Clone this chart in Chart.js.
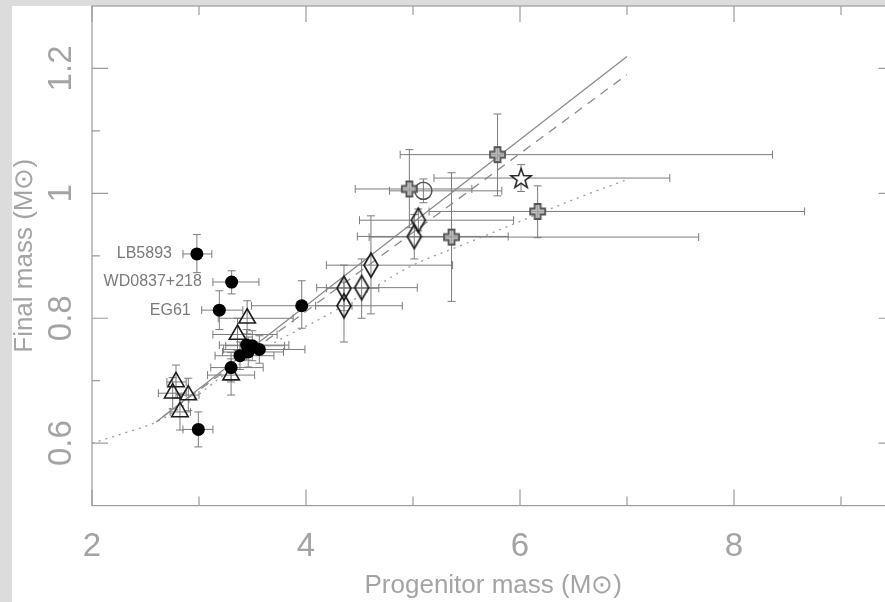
<!DOCTYPE html>
<html>
<head>
<meta charset="utf-8">
<script src="https://cdn.jsdelivr.net/npm/chart.js@4.4.1/dist/chart.umd.min.js"></script>
<style>
  html, body { margin: 0; padding: 0; background: #dcdcdc; overflow: hidden; }
  #paper { position: absolute; left: 12px; top: 6px; width: 900px; height: 610px; background: #fff; }
  #chart { position: absolute; left: 12px; top: 0; width: 890px; height: 602px; }
</style>
</head>
<body>
<div id="paper"></div>
<canvas id="chart" width="890" height="602"></canvas>
<script>
// axis ticks
const xMajor = [2, 4, 6, 8];
const xMinor = [3, 5, 7, 9];
const yMajor = [0.6, 0.8, 1, 1.2];
const yMinor = [0.7, 0.9, 1.1];

// filled circles (white dwarfs incl. labelled ones)
const dotX   = [2.98, 3.305, 3.19, 3.96, 3.445, 3.498, 3.46, 3.564, 3.383, 3.30, 2.994];
const dotY   = [0.903, 0.858, 0.813, 0.820, 0.757, 0.756, 0.746, 0.750, 0.740, 0.721, 0.622];
const dotXlo = [2.85, 3.13, 3.025, 3.49, 3.19, 3.25, 3.22, 3.23, 3.15, 3.11, 2.85];
const dotXhi = [3.12, 3.56, 3.41, 4.43, 3.84, 3.80, 3.79, 3.99, 3.70, 3.60, 3.13];
const dotYlo = [0.873, 0.839, 0.782, 0.784, 0.733, 0.732, 0.722, 0.728, 0.718, 0.698, 0.594];
const dotYhi = [0.934, 0.876, 0.844, 0.860, 0.782, 0.780, 0.770, 0.772, 0.762, 0.745, 0.650];
const dotNames = ["LB5893", "WD0837+218", "EG61", "", "", "", "", "", "", "", ""];

// open triangles
const triX   = [2.785, 2.754, 2.90, 2.822, 3.30, 3.36, 3.45];
const triY   = [0.698, 0.680, 0.677, 0.650, 0.709, 0.774, 0.800];
const triXlo = [2.70, 2.62, 2.80, 2.73, 3.08, 3.13, 3.18];
const triXhi = [2.88, 2.88, 3.00, 2.92, 3.52, 3.73, 3.88];
const triYlo = [0.672, 0.655, 0.652, 0.621, 0.677, 0.748, 0.775];
const triYhi = [0.725, 0.705, 0.704, 0.678, 0.735, 0.800, 0.828];

// open diamonds
const diaX   = [4.355, 4.355, 4.52, 4.607, 5.012, 5.05];
const diaY   = [0.848, 0.820, 0.849, 0.885, 0.931, 0.957];
const diaXlo = [4.19, 4.09, 4.10, 4.19, 4.48, 4.50];
const diaXhi = [4.68, 4.90, 5.04, 5.37, 5.89, 5.94];
const diaYlo = [0.812, 0.762, 0.800, 0.807, 0.895, 0.940];
const diaYhi = [0.885, 0.858, 0.895, 0.964, 0.966, 0.975];

// grey crosses
const crsX   = [4.966, 5.79, 5.36, 6.165];
const crsY   = [1.007, 1.062, 0.930, 0.971];
const crsXlo = [4.46, 4.88, 4.59, 5.15];
const crsXhi = [5.55, 8.36, 7.67, 8.66];
const crsYlo = [0.945, 0.996, 0.827, 0.929];
const crsYhi = [1.070, 1.127, 1.033, 1.012];

// open circle
const cirX = [5.097], cirY = [1.004];
const cirXlo = [4.78], cirXhi = [5.83], cirYlo = [0.985], cirYhi = [1.023];

// star
const starX = [6.01], starY = [1.0245];
const starXlo = [5.196], starXhi = [7.40], starYlo = [1.003], starYhi = [1.046];

// relations
const solidX = [2.6, 7.0];
const solidY = [0.634, 1.219];
const dashX = [2.66, 7.0];
const dashY = [0.642, 1.19];
const dotCurveX = [2.0, 2.3, 2.6, 2.9, 3.2, 3.5, 3.8, 4.1, 4.5, 5.0, 5.5, 6.0, 6.5, 7.0];
const dotCurveY = [0.600, 0.616, 0.634, 0.665, 0.705, 0.740, 0.770, 0.796, 0.835, 0.885, 0.920, 0.955, 0.990, 1.022];

const pts = (xs, ys) => xs.map((x, i) => ({ x: x, y: ys[i] }));

// marker images
function marker(w, h, draw) {
  const c = document.createElement("canvas");
  c.width = w; c.height = h;
  draw(c.getContext("2d"), w, h);
  return c;
}
const diamondImg = marker(18, 28, (g, w, h) => {
  g.beginPath();
  g.moveTo(w / 2, 2); g.lineTo(w - 2, h / 2); g.lineTo(w / 2, h - 2); g.lineTo(2, h / 2);
  g.closePath();
  g.lineWidth = 1.7; g.strokeStyle = "#1e1e1e"; g.stroke();
});
const crossImg = marker(19, 19, (g) => {
  const c = 9.5, a = 3, r = 7.5;
  g.beginPath();
  g.moveTo(c - a, c - r); g.lineTo(c + a, c - r); g.lineTo(c + a, c - a); g.lineTo(c + r, c - a);
  g.lineTo(c + r, c + a); g.lineTo(c + a, c + a); g.lineTo(c + a, c + r); g.lineTo(c - a, c + r);
  g.lineTo(c - a, c + a); g.lineTo(c - r, c + a); g.lineTo(c - r, c - a); g.lineTo(c - a, c - a);
  g.closePath();
  g.fillStyle = "rgba(170,170,170,0.75)"; g.fill();
  g.lineWidth = 1.8; g.strokeStyle = "#555"; g.stroke();
});
const starImg = marker(24, 24, (g) => {
  g.beginPath();
  for (let i = 0; i < 10; i++) {
    const r = i % 2 ? 4.2 : 10.5;
    const ang = -Math.PI / 2 + i * Math.PI / 5;
    g.lineTo(12 + r * Math.cos(ang), 13 + r * Math.sin(ang));
  }
  g.closePath();
  g.fillStyle = "#fff"; g.fill();
  g.lineWidth = 1.5; g.strokeStyle = "#1e1e1e"; g.stroke();
});

// error bars for every symbol set
const errSets = [
  [dotX, dotY, dotXlo, dotXhi, dotYlo, dotYhi],
  [triX, triY, triXlo, triXhi, triYlo, triYhi],
  [diaX, diaY, diaXlo, diaXhi, diaYlo, diaYhi],
  [crsX, crsY, crsXlo, crsXhi, crsYlo, crsYhi],
  [cirX, cirY, cirXlo, cirXhi, cirYlo, cirYhi],
  [starX, starY, starXlo, starXhi, starYlo, starYhi]
];

const errorBars = {
  id: "errorBars",
  beforeDatasetsDraw(chart) {
    const { ctx, scales: { x, y } } = chart;
    const cap = 4;
    ctx.save();
    ctx.strokeStyle = "#7c7c7c";
    ctx.lineWidth = 1;
    ctx.beginPath();
    errSets.forEach(([xs, ys, xlo, xhi, ylo, yhi]) => {
      xs.forEach((v, i) => {
        const px = x.getPixelForValue(v), py = y.getPixelForValue(ys[i]);
        const l = x.getPixelForValue(xlo[i]), r = x.getPixelForValue(xhi[i]);
        const t = y.getPixelForValue(yhi[i]), b = y.getPixelForValue(ylo[i]);
        ctx.moveTo(l, py); ctx.lineTo(r, py);
        ctx.moveTo(l, py - cap); ctx.lineTo(l, py + cap);
        ctx.moveTo(r, py - cap); ctx.lineTo(r, py + cap);
        ctx.moveTo(px, t); ctx.lineTo(px, b);
        ctx.moveTo(px - cap, t); ctx.lineTo(px + cap, t);
        ctx.moveTo(px - cap, b); ctx.lineTo(px + cap, b);
      });
    });
    ctx.stroke();
    ctx.restore();
  }
};

// frame with inward ticks on all sides, plus star names
const frameTicks = {
  id: "frameTicks",
  afterDraw(chart) {
    const { ctx, chartArea: a, scales: { x, y } } = chart;
    ctx.save();
    ctx.strokeStyle = "#9c9c9c";
    ctx.lineWidth = 1.2;
    ctx.strokeRect(a.left, a.top, a.right - a.left, a.bottom - a.top);
    ctx.beginPath();
    const xt = (v, len) => {
      const p = x.getPixelForValue(v);
      ctx.moveTo(p, a.bottom); ctx.lineTo(p, a.bottom - len);
      ctx.moveTo(p, a.top); ctx.lineTo(p, a.top + len);
    };
    const yt = (v, len) => {
      const p = y.getPixelForValue(v);
      ctx.moveTo(a.left, p); ctx.lineTo(a.left + len, p);
      ctx.moveTo(a.right, p); ctx.lineTo(a.right - len, p);
    };
    xMajor.forEach(v => xt(v, 16));
    xMinor.forEach(v => xt(v, 9));
    yMajor.forEach(v => yt(v, 16));
    yMinor.forEach(v => yt(v, 8));
    ctx.stroke();

    ctx.fillStyle = "#7a7a7a";
    ctx.font = "16px 'Liberation Sans', sans-serif";
    ctx.textAlign = "right";
    ctx.textBaseline = "middle";
    dotNames.forEach((n, i) => {
      if (!n) return;
      ctx.fillText(n, x.getPixelForValue(dotXlo[i]) - 11, y.getPixelForValue(dotY[i]));
    });
    ctx.restore();
  }
};

const tickFont = { family: "'Liberation Sans Narrow', 'Liberation Sans', sans-serif", size: 33, lineHeight: 1 };
const titleFont = { family: "'Liberation Sans', sans-serif", size: 26, lineHeight: 1 };

new Chart(document.getElementById("chart"), {
  type: "scatter",
  data: {
    datasets: [
      { data: pts(solidX, solidY), showLine: true, pointRadius: 0, borderColor: "#8a8a8a", borderWidth: 1.3, order: 9 },
      { data: pts(dashX, dashY), showLine: true, pointRadius: 0, borderColor: "#8a8a8a", borderWidth: 1.3, borderDash: [9, 7], order: 9 },
      { data: pts(dotCurveX, dotCurveY), showLine: true, pointRadius: 0, borderColor: "#9a9a9a", borderWidth: 1.3,
        borderDash: [2, 5], cubicInterpolationMode: "monotone", order: 9 },
      { data: pts(dotX, dotY), pointStyle: "circle", pointRadius: 6.5, backgroundColor: "#000", borderWidth: 0, order: 1 },
      { data: pts(triX, triY), pointStyle: "triangle", pointRadius: 9.5, backgroundColor: "rgba(0,0,0,0)", borderColor: "#1e1e1e", borderWidth: 1.6, order: 1 },
      { data: pts(diaX, diaY), pointStyle: diamondImg, order: 1 },
      { data: pts(crsX, crsY), pointStyle: crossImg, order: 1 },
      { data: pts(cirX, cirY), pointStyle: "circle", pointRadius: 8.5, backgroundColor: "rgba(0,0,0,0)", borderColor: "#555", borderWidth: 1.5, order: 1 },
      { data: pts(starX, starY), pointStyle: starImg, order: 1 }
    ]
  },
  options: {
    responsive: false,
    animation: false,
    events: [],
    layout: { autoPadding: false, padding: { top: 6, right: 7.5, left: 0, bottom: 0 } },
    plugins: { legend: { display: false }, tooltip: { enabled: false } },
    scales: {
      x: {
        type: "linear", min: 2, max: 9.5,
        afterBuildTicks: s => { s.ticks = xMajor.map(v => ({ value: v })); },
        afterFit: s => { s.height = 96.4; s.paddingLeft = 0; s.paddingRight = 0; },
        grid: { display: false, drawTicks: false },
        border: { display: false },
        ticks: { font: tickFont, color: "#a4a4a4", padding: 25, maxRotation: 0, minRotation: 0, callback: v => String(v) },
        title: { display: true, text: "Progenitor mass (M\u2299)", font: titleFont, color: "#a4a4a4", padding: { top: 0, bottom: 3 } }
      },
      y: {
        type: "linear", min: 0.5, max: 1.3,
        afterBuildTicks: s => { s.ticks = yMajor.map(v => ({ value: v })); },
        afterFit: s => { s.width = 80; s.paddingTop = 0; s.paddingBottom = 0; },
        grid: { display: false, drawTicks: false },
        border: { display: false },
        ticks: { font: tickFont, color: "#a4a4a4", padding: 7, minRotation: 90, maxRotation: 90, crossAlign: "center", callback: v => String(v) },
        title: { display: true, text: "Final mass (M\u2299)", font: titleFont, color: "#a4a4a4", padding: { top: 0, bottom: 0 } }
      }
    }
  },
  plugins: [errorBars, frameTicks]
});
</script>
</body>
</html>
